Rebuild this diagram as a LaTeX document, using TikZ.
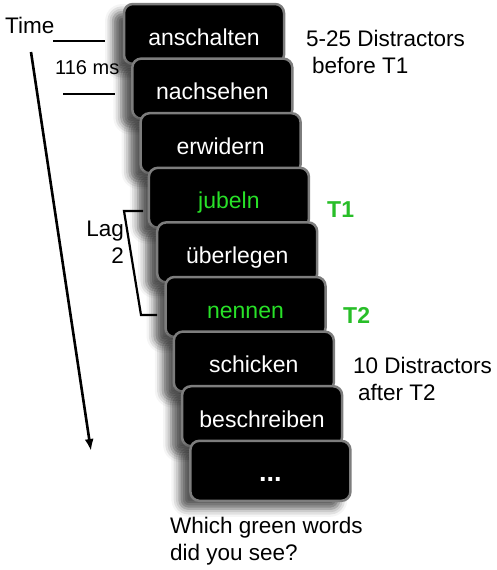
\documentclass[tikz,border=0pt]{standalone}
\usepackage{fontspec}
\setmainfont{Liberation Sans}
\usepackage{xcolor}
\usepackage{tikz}
\usetikzlibrary{arrows.meta, shadows.blur}
\definecolor{cardedge}{RGB}{125,125,125}
\definecolor{targetword}{RGB}{40,225,40}
\definecolor{targetlabel}{RGB}{40,190,40}
\tikzset{
    card/.style={draw=cardedge, line width=2.5pt, fill=black, rounded corners=9pt,
        minimum width=160pt, minimum height=60pt, text=white,
        font=\fontsize{23}{26}\selectfont, text height=22pt, text depth=0pt,
        blur shadow={shadow xshift=-11pt, shadow yshift=-8pt, shadow blur radius=8pt, shadow opacity=65}},
    target/.style={card, text=targetword},
    note/.style={align=left, inner sep=0pt, font=\fontsize{22.5}{27}\selectfont},
    tlabel/.style={inner sep=0pt, text=targetlabel, font=\fontsize{23}{27}\selectfont\bfseries}
}

\begin{document}
\begin{tikzpicture}[x=1pt, y=-1pt]
            \useasboundingbox (0,0) rectangle (496,570);

            % 1. Time axis
            \node[note, anchor=base west] (time) at (5,33) {Time};
            \coordinate (tstart) at (31,52);
            \coordinate (tend) at (91,451);
            \draw[line width=2.6pt, -{Latex[length=12pt,width=9pt]}] (tstart) -- (tend);
            \draw[line width=2pt] (53,41) -- (105,41);
            \draw[line width=2pt] (63,94) -- (115,94);
            \node[note, anchor=base west, font=\fontsize{20}{22}\selectfont] (dur) at (55,74) {116 ms};

            % 2. Stream of words
            \node[card] (anschalten) at (204,34) {anschalten};
            \node[card] (nachsehen) at (212.3,88.6) {nachsehen};
            \node[card] (erwidern) at (220.6,143.2) {erwidern};
            \node[target] (jubeln) at (228.9,197.8) {jubeln};
            \node[card] (ueberlegen) at (237.2,252.4) {überlegen};
            \node[target] (nennen) at (245.5,307) {nennen};
            \node[card] (schicken) at (253.8,361.6) {schicken};
            \node[card] (beschreiben) at (262.1,416.2) {beschreiben};
            \node[card, font=\fontsize{27}{26}\selectfont\bfseries] (dots) at (270.4,470.8) {...};

            % 3. Lag bracket
            \draw[line width=2.2pt] (143,211) -- (124,211) -- (141,315) -- (157,315);
            \node[note, align=right, anchor=base east] (lag) at (124,263) {Lag\\2};

            % 4. Labels
            \node[tlabel, anchor=base west] (tone) at (327,217) {T1};
            \node[tlabel, anchor=base west] (ttwo) at (343,323) {T2};
            \node[note, anchor=north west] (before) at (306,30) {5-25 Distractors\\\hspace*{6pt}before T1};
            \node[note, anchor=north west] (after) at (353,357) {10 Distractors\\\hspace*{5pt}after T2};
            \node[note, anchor=north west] (question) at (170,517) {Which green words\\did you see?};
        \end{tikzpicture}
\end{document}
